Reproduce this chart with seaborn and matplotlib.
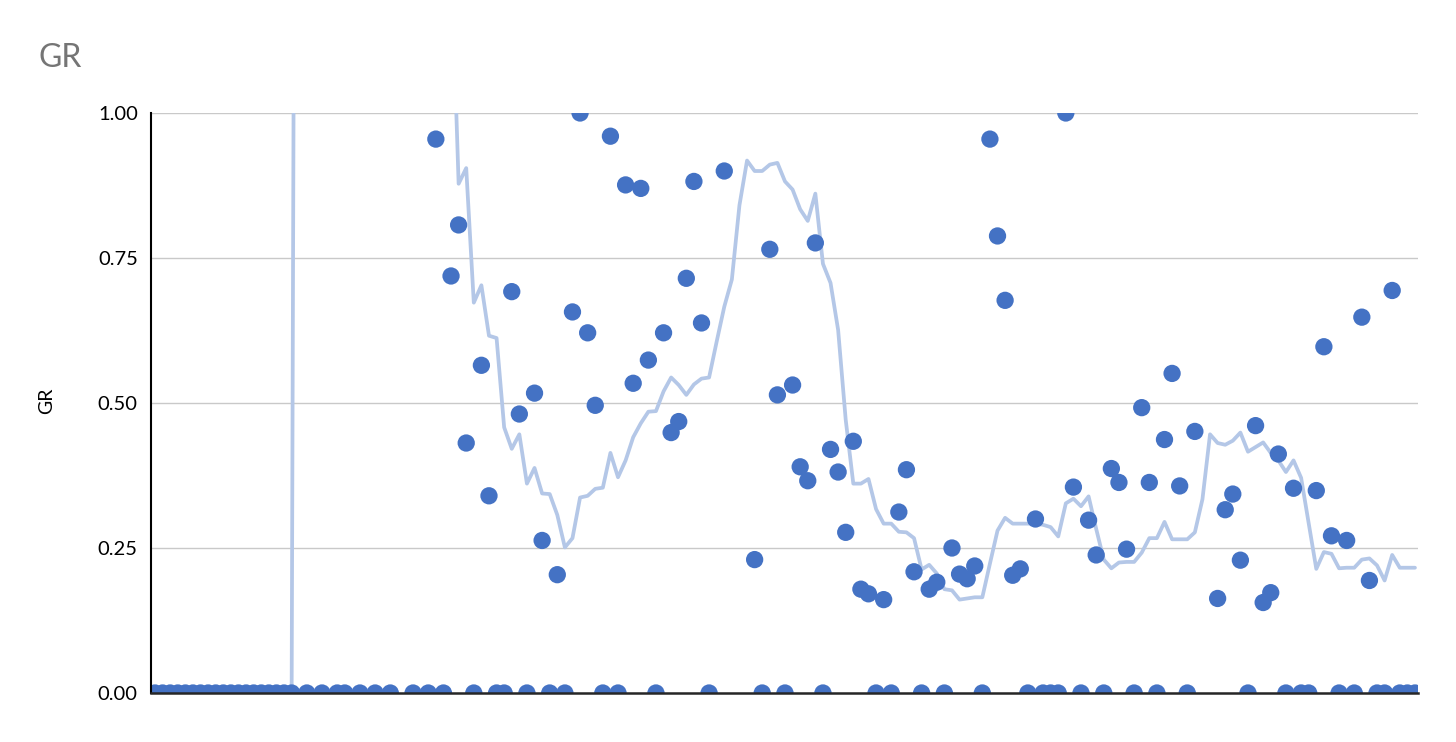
import numpy as np
import pandas as pd
import matplotlib
matplotlib.use("Agg")
import matplotlib.pyplot as plt
import seaborn as sns

nan = np.nan

# sample index along the record
sample = list(range(167))

# GR values (NaN = value above the plotted range, not visible)
gr = [
    0, 0, 0, 0, 0, 0, 0, 0, 0, 0, 0, 0, 0, 0, 0, 0, 0, 0, 0,       # 0-18
    nan, 0, nan, 0, nan, 0, 0, nan, 0, nan, 0, nan, 0, nan, nan,     # 19-33
    0, nan, 0, 0.955, 0, 0.719, 0.807, 0.431, 0, 0.565,              # 34-43
    0.340, 0, 0, 0.692, 0.481, 0, 0.517, 0.263, 0, 0.204,            # 44-53
    0, 0.657, 1.0, 0.621, 0.496, 0, 0.960, 0, 0.876, 0.534,          # 54-63
    0.870, 0.574, 0, 0.621, 0.449, 0.468, 0.715, 0.882, 0.638, 0,    # 64-73
    nan, 0.900, nan, nan, nan, 0.230, 0, 0.765, 0.514, 0,            # 74-83
    0.531, 0.390, 0.366, 0.776, 0, 0.420, 0.381, 0.277, 0.434, 0.179,  # 84-93
    0.171, 0, 0.161, 0, 0.312, 0.385, 0.209, 0, 0.179, 0.191,        # 94-103
    0, 0.250, 0.205, 0.197, 0.219, 0, 0.955, 0.788, 0.677, 0.203,    # 104-113
    0.214, 0, 0.300, 0, 0, 0, 1.0, 0.355, 0, 0.298,                  # 114-123
    0.238, 0, 0.387, 0.363, 0.248, 0, 0.492, 0.363, 0, 0.437,        # 124-133
    0.551, 0.357, 0, 0.451, nan, nan, 0.163, 0.316, 0.343, 0.229,    # 134-143
    0, 0.461, 0.156, 0.173, 0.412, 0, 0.353, 0, 0, 0.349,            # 144-153
    0.597, 0.271, 0, 0.263, 0, 0.648, 0.194, 0, 0, 0.694,            # 154-163
    0, 0, 0,                                                         # 164-166
]

# moving-average trend line (values above 1 run off the top of the plot)
gr_trend = [
    0, 0, 0, 0, 0, 0, 0, 0, 0, 0, 0, 0, 0, 0, 0, 0, 0, 0, 0,         # 0-18
    4.0, 4.0, 3.9, 3.9, 3.9, 3.9, 3.8, 3.8, 3.8, 3.8, 3.7, 3.7,      # 19-30
    3.7, 3.7, 3.7, 3.6, 3.6, 1.5, 1.45, 1.4, 1.28,                   # 31-39
    0.878, 0.905, 0.673, 0.703, 0.616, 0.612, 0.458, 0.421, 0.446, 0.361,  # 40-49
    0.388, 0.344, 0.343, 0.307, 0.251, 0.267, 0.337, 0.340, 0.352, 0.354,  # 50-59
    0.414, 0.372, 0.401, 0.441, 0.465, 0.485, 0.486, 0.520, 0.544, 0.531,  # 60-69
    0.514, 0.532, 0.542, 0.544, 0.606, 0.666, 0.713, 0.841, 0.918, 0.900,  # 70-79
    0.900, 0.911, 0.914, 0.882, 0.868, 0.834, 0.814, 0.861, 0.740, 0.707,  # 80-89
    0.626, 0.471, 0.361, 0.361, 0.369, 0.317, 0.292, 0.292, 0.278, 0.277,  # 90-99
    0.267, 0.213, 0.221, 0.206, 0.179, 0.177, 0.161, 0.163, 0.165, 0.165,  # 100-109
    0.223, 0.280, 0.302, 0.292, 0.292, 0.292, 0.292, 0.290, 0.286, 0.270,  # 110-119
    0.327, 0.335, 0.322, 0.339, 0.283, 0.230, 0.215, 0.225, 0.226, 0.226,  # 120-129
    0.242, 0.267, 0.267, 0.295, 0.265, 0.265, 0.265, 0.277, 0.334, 0.446,  # 130-139
    0.431, 0.428, 0.435, 0.449, 0.416, 0.424, 0.432, 0.414, 0.401, 0.381,  # 140-149
    0.401, 0.371, 0.293, 0.214, 0.243, 0.240, 0.215, 0.216, 0.216, 0.230,  # 150-159
    0.232, 0.220, 0.194, 0.238, 0.216, 0.216, 0.216,                       # 160-166
]

y_ticks = [0.0, 0.25, 0.50, 0.75, 1.00]
y_tick_labels = ["0.00", "0.25", "0.50", "0.75", "1.00"]

df = pd.DataFrame({"sample": sample, "GR": gr})
df_trend = pd.DataFrame({"sample": sample, "trend": gr_trend})

sns.set_theme(style="white")
plt.rcParams["font.family"] = ["Lato", "DejaVu Sans"]

W, H = 1456, 742
fig = plt.figure(figsize=(W / 100, H / 100), dpi=100)
left, right, top, bottom = 151, 1418, 113, 693
ax = fig.add_axes([left / W, 1 - bottom / H, (right - left) / W, (bottom - top) / H])

sns.lineplot(data=df_trend, x="sample", y="trend", ax=ax, sort=False,
             estimator=None, color="#B4C7E7", linewidth=2.7, zorder=2)
sns.scatterplot(data=df, x="sample", y="GR", ax=ax, color="#4472C4",
                s=155, edgecolor="none", linewidth=0, zorder=3)

ax.set_ylim(0, 1)
ax.set_xlim(-0.53, 166.4)
ax.set_yticks(y_ticks)
ax.set_yticklabels(y_tick_labels)
ax.set_xticks([])
ax.set_xlabel("")
ax.tick_params(axis="y", length=0, pad=9.5, labelsize=14.5, labelcolor="#000000")

ax.yaxis.grid(True, color="#C9C9C9", linewidth=1.0)
ax.set_axisbelow(True)

for s in ["top", "right"]:
    ax.spines[s].set_visible(False)
ax.spines["left"].set_color("#000000")
ax.spines["left"].set_linewidth(1.5)
ax.spines["bottom"].set_color("#262626")
ax.spines["bottom"].set_linewidth(1.8)
ax.spines["left"].set_zorder(5)
ax.spines["bottom"].set_zorder(5)

ax.set_ylabel("GR", fontsize=14, color="#000000")
ax.yaxis.set_label_coords((55 - left) / (right - left), (bottom - 401) / (bottom - top))

fig.text(38 / W, 1 - 67 / H, "GR", fontsize=23, color="#757575",
         ha="left", va="baseline")

fig.savefig("out.png", dpi=100)
